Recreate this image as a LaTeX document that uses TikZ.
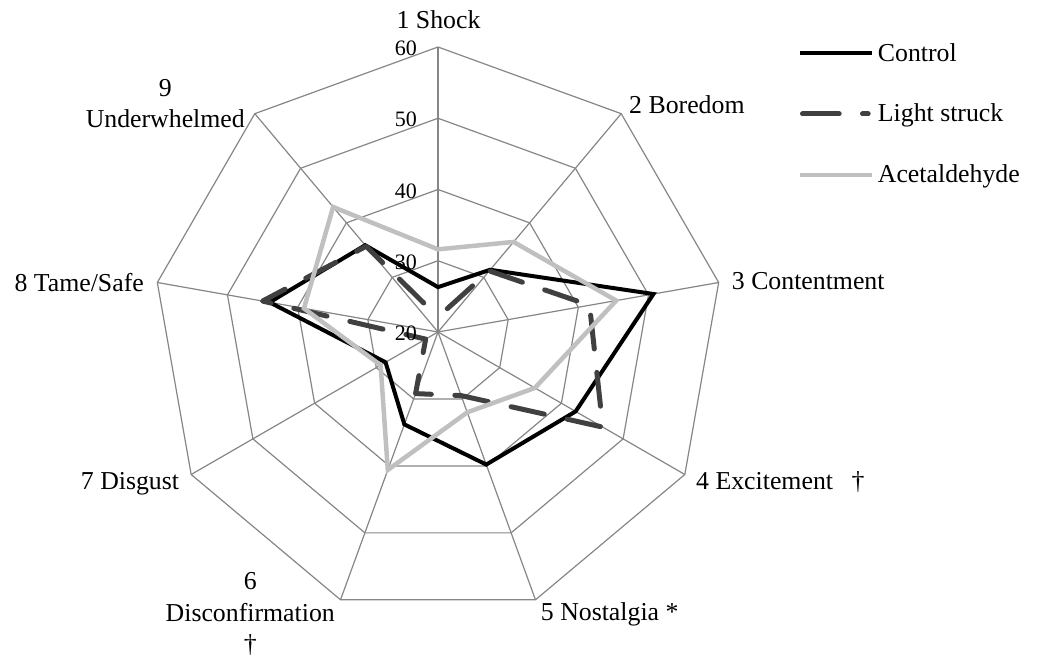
\documentclass[tikz,border=0pt]{standalone}
\usepackage{fontspec}
\setmainfont{Liberation Serif}
\usetikzlibrary{calc}
\definecolor{gridgray}{HTML}{868686}
\definecolor{lsgray}{HTML}{404040}
\definecolor{acgray}{HTML}{C0C0C0}
\begin{document}
\begin{tikzpicture}[x=1pt,y=1pt,
  grid/.style={draw=gridgray, line width=1.2pt},
  ctl/.style={draw=black, line width=4pt, line join=miter},
  lsk/.style={draw=lsgray, line width=5pt, line cap=round, line join=round},
  acet/.style={draw=acgray, line width=4.5pt, line join=miter},
  axlabel/.style={font=\fontsize{25.8}{31}\selectfont, inner sep=0pt},
  scalelabel/.style={font=\fontsize{22}{26}\selectfont, inner sep=0pt, anchor=base east},
]
\useasboundingbox (0,0) rectangle (1040,658);

% radar chart, centre at (438,326); value v sits at radius (v-20)*7.125
\begin{scope}[shift={(438,326)}]
  \coordinate (O) at (0,0);
  % spoke ends at value 60
  \foreach \k in {0,...,8}
    \coordinate (v\k) at ({90-40*\k}:285);
  % rings at 30, 40, 50, 60
  \foreach \v in {30,40,50,60}{
    \pgfmathsetmacro\rr{(\v-20)*7.125}
    \draw[grid] (90:\rr) \foreach \k in {1,...,8}{ -- ({90-40*\k}:\rr) } -- cycle;
  }
  % spokes
  \foreach \k in {0,...,8}
    \draw[grid] (O) -- (v\k);

  % data points of the three series
  \foreach \v [count=\i from 0] in {26.3,31.4,50.7,42.3,39.8,33.8,28.5,44.0,35.9}
    \coordinate (c\i) at ({90-40*\i}:{(\v-20)*7.125});
  \foreach \v [count=\i from 0] in {22.1,31.2,41.6,46.7,29.5,29.2,22.0,45.0,35.7}
    \coordinate (s\i) at ({90-40*\i}:{(\v-20)*7.125});
  \foreach \v [count=\i from 0] in {31.6,36.5,45.4,35.7,32.0,40.6,29.3,39.1,42.9}
    \coordinate (a\i) at ({90-40*\i}:{(\v-20)*7.125});

  \draw[ctl] (c0)--(c1)--(c2)--(c3)--(c4)--(c5)--(c6)--(c7)--(c8)--cycle;
  \draw[lsk, dash pattern=on 34pt off 23.5pt, dash phase=45pt]
    (s0)--(s1)--(s2)--(s3)--(s4)--(s5)--(s6)--(s7)--(s8)--cycle;
  \draw[acet] (a0)--(a1)--(a2)--(a3)--(a4)--(a5)--(a6)--(a7)--(a8)--cycle;

  % scale along the first spoke
  \foreach \v in {20,30,40,50,60}
    \node[scalelabel] (t\v) at (-21,{(\v-20)*7.125-8.7}) {\v};
\end{scope}

% axis labels
\node[axlabel, anchor=base] (l1) at (438.5,629) {1 Shock};
\node[axlabel, anchor=base west] (l2) at (629,544) {2 Boredom};
\node[axlabel, anchor=base west] (l3) at (731.7,368) {3 Contentment};
\node[axlabel, anchor=base west] (l4) at (696,168) {4 Excitement\hspace{12pt} †};
\node[axlabel, anchor=base west] (l5) at (540.7,38) {5 Nostalgia *};
\node[axlabel, anchor=base east] (l6b) at (335,37) {Disconfirmation};
\node[axlabel, anchor=base] (l6a) at ($(l6b.base)+(0,31)$) {6};
\node[axlabel, anchor=base] (l6c) at ($(l6b.base)+(0,-31)$) {†};
\node[axlabel, anchor=base east] (l7) at (179.3,168) {7 Disgust};
\node[axlabel, anchor=base east] (l8) at (144,366.3) {8 Tame/Safe};
\node[axlabel, anchor=base east] (l9b) at (245,530) {Underwhelmed};
\node[axlabel, anchor=base] (l9a) at ($(l9b.base)+(0,31)$) {9};

% legend
\coordinate (k1a) at (800,605.3);  \coordinate (k1b) at (872,605.3);
\coordinate (k2a) at (802.5,544);  \coordinate (k2b) at (868.2,544);
\coordinate (k3a) at (800,483);    \coordinate (k3b) at (872,483);
\draw[ctl] (k1a) -- (k1b);
\draw[lsk, dash pattern=on 36.7pt off 23.3pt] (k2a) -- (k2b);
\draw[acet] (k3a) -- (k3b);
\node[axlabel, anchor=base west] (n1) at (877.7,596.3) {Control};
\node[axlabel, anchor=base west] (n2) at (877.7,536.3) {Light struck};
\node[axlabel, anchor=base west] (n3) at (877.7,475.3) {Acetaldehyde};
\end{tikzpicture}
\end{document}
